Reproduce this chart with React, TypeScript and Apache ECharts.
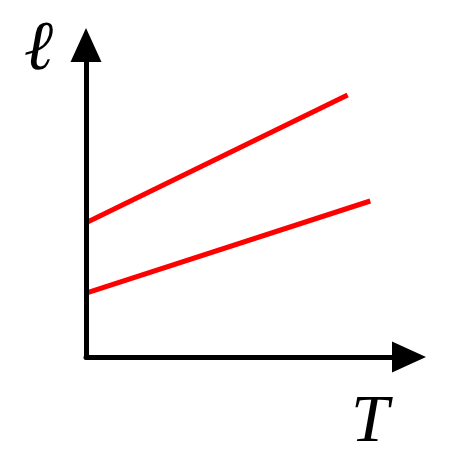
import { useEffect, useRef } from 'react';
import * as echarts from 'echarts';

// T values where each line starts and stops, and matching ℓ values
const upperT = [0, 8.1];
const upperL = [4.3, 8.4];
const lowerT = [0, 8.8];
const lowerL = [2.05, 5.0];

const axisName = { x: 'T', y: 'ℓ' };

const App = () => {
    const chartRef = useRef<HTMLDivElement>(null);

    useEffect(() => {
        document.body.style.margin = '0';
        if (!chartRef.current) return;
        const chart = echarts.init(chartRef.current, undefined, { renderer: 'svg' });

        const axisCommon = {
            type: 'value' as const,
            min: 0,
            max: 10,
            z: 10,
            axisLine: {
                show: true,
                symbol: ['none', 'triangle'],
                symbolSize: [31, 34],
                lineStyle: { color: '#000', width: 5 }
            },
            axisTick: { show: false },
            axisLabel: { show: false },
            splitLine: { show: false }
        };

        const option = {
            animation: false,
            backgroundColor: '#fff',
            grid: { left: 86, top: 45, right: 42, bottom: 108 },
            xAxis: { ...axisCommon },
            yAxis: { ...axisCommon },
            series: [
                {
                    type: 'line',
                    symbol: 'none',
                    data: upperT.map((t, i) => [t, upperL[i]]),
                    lineStyle: { color: '#ff0000', width: 5 }
                },
                {
                    type: 'line',
                    symbol: 'none',
                    data: lowerT.map((t, i) => [t, lowerL[i]]),
                    lineStyle: { color: '#ff0000', width: 5 }
                }
            ],
            graphic: [
                {
                    type: 'text',
                    left: 25,
                    top: 9,
                    style: {
                        text: axisName.y,
                        font: 'italic bold 70px "DejaVu Serif"',
                        fill: '#000'
                    }
                },
                {
                    type: 'text',
                    left: 351,
                    top: 384,
                    style: {
                        text: axisName.x,
                        font: 'italic 68px "Liberation Serif"',
                        fill: '#000'
                    }
                }
            ]
        };

        chart.setOption(option);
        return () => chart.dispose();
    }, []);

    return <div ref={chartRef} style={{ width: '451px', height: '465px' }} />;
};

export default App;
